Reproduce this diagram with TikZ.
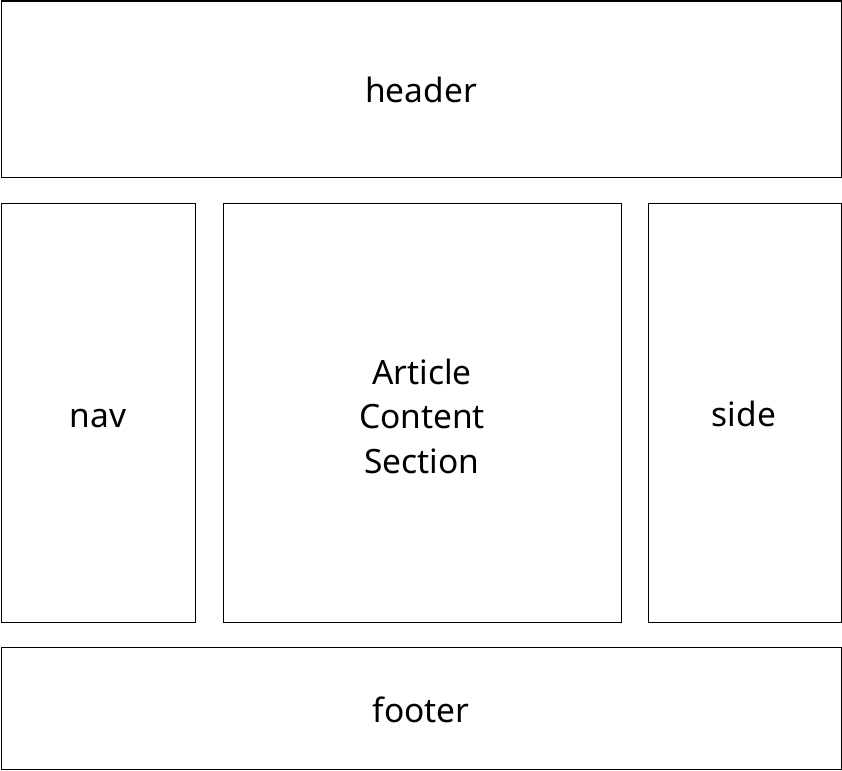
\documentclass[tikz,border=0pt]{standalone}
\usepackage{fontspec}
\setmainfont{Noto Sans}
\begin{document}
\begin{tikzpicture}[x=1pt,y=-1pt,
  region/.style={draw=black,line width=1.6pt,inner sep=0pt,anchor=north west},
  lbl/.style={inner sep=0pt,align=center,anchor=base,
    font=\fontsize{33.5}{44.5}\selectfont}]
\useasboundingbox (0,0) rectangle (842,770);
\node[region,minimum width=840,minimum height=176] (header) at (0.5,0.5) {};
\node[region,minimum width=194,minimum height=419] (nav) at (0.5,202.5) {};
\node[region,minimum width=398,minimum height=419] (article) at (222.5,202.5) {};
\node[region,minimum width=193,minimum height=419] (side) at (647.5,202.5) {};
\node[region,minimum width=840,minimum height=122] (footer) at (0.5,646.5) {};
\node[lbl] (headertext) at (421,103) {header};
\node[lbl] (navtext) at (98,427) {nav};
\node[lbl] (articletext) at (422,473) {Article\\Content\\Section};
\node[lbl] (sidetext) at (744,426.5) {side};
\node[lbl] (footertext) at (421,722) {footer};
\end{tikzpicture}
\end{document}
